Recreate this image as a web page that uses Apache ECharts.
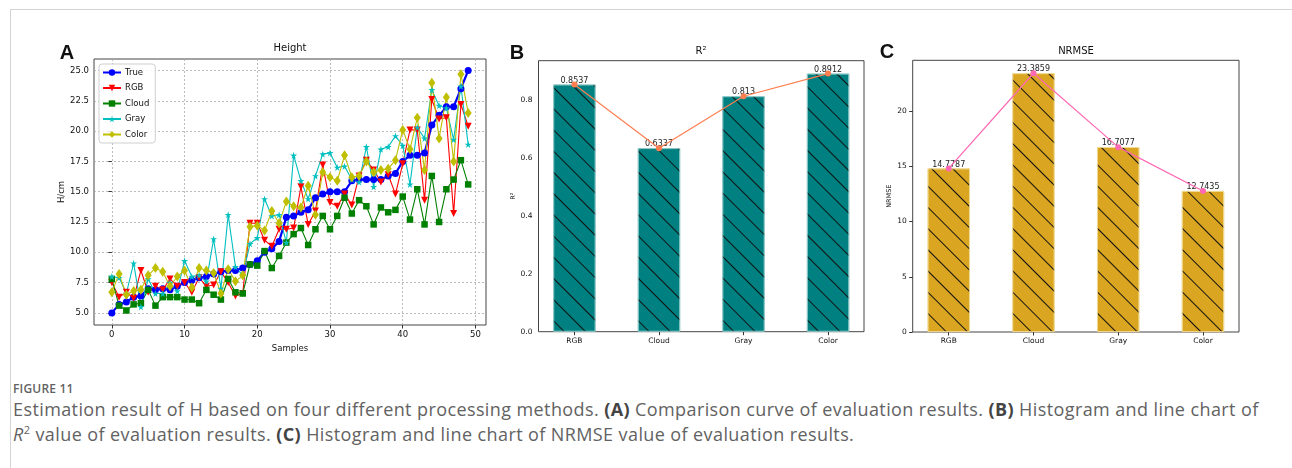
<!DOCTYPE html>
<html>
<head>
<meta charset="utf-8">
<title>Figure 11</title>
<script src="https://cdn.jsdelivr.net/npm/echarts@6/dist/echarts.min.js"></script>
<style>
  html, body { margin: 0; padding: 0; background: #fff; }
  #wrap { position: relative; width: 1292px; height: 468px; overflow: hidden; }
  #frame { position: absolute; left: 10px; top: 9px; width: 1290px; height: 470px;
           border-top: 1px solid #d4d4d4; border-left: 1px solid #d4d4d4; }
  #main { position: absolute; left: 0; top: 0; width: 1292px; height: 370px; }
  .cap { position: absolute; left: 13px; color: #626262; font-family: "Open Sans", sans-serif; white-space: nowrap; }
  #figno { top: 380px; font-size: 12px; font-weight: 600; letter-spacing: 0.2px; }
  #captxt { top: 397px; font-size: 18px; line-height: 25px; letter-spacing: 0.4px; }
  #captxt b { color: #444; }
</style>
</head>
<body>
<div id="wrap">
  <div id="frame"></div>
  <div id="main"></div>
  <div class="cap" id="figno">FIGURE 11</div>
  <div class="cap" id="captxt">Estimation result of H based on four different processing methods. <b>(A)</b> Comparison curve of evaluation results. <b>(B)</b> Histogram and line chart of<br><i>R</i><sup style="font-size:11px;line-height:0">2</sup> value of evaluation results. <b>(C)</b> Histogram and line chart of NRMSE value of evaluation results.</div>
</div>
<script type="text/javascript">
// panel A: height per sample (H/cm)
var trueH  = [5.0,5.7,5.9,6.3,6.4,7.0,6.9,7.0,6.9,7.2, 7.5,7.7,7.9,8.0,8.2,8.4,8.5,8.5,8.7,9.0,
              9.3,10.0,10.3,10.9,12.9,13.0,13.3,13.5,14.5,14.8, 15.0,15.0,15.0,15.9,16.0,16.0,16.0,16.0,16.3,16.5,
              17.5,18.0,18.0,18.2,20.5,21.3,22.0,22.0,23.5,25.0];
var rgbH   = [7.5,6.3,6.7,6.2,8.5,6.7,7.2,6.9,7.8,7.2, 7.5,6.7,7.9,7.2,7.3,8.4,7.5,6.4,6.6,12.4,
              12.4,11.0,10.5,11.9,11.9,12.0,15.4,12.3,13.4,17.2, 14.1,13.8,14.8,13.9,16.3,17.6,16.8,15.8,16.4,14.8,
              17.3,20.1,20.1,14.3,22.6,21.0,21.1,13.2,22.2,20.4];
var cloudH = [7.8,5.6,5.2,5.7,5.8,6.9,5.6,6.3,6.3,6.3, 6.1,6.1,5.8,6.9,6.5,6.1,7.8,6.7,6.6,9.0,
              8.9,10.1,8.7,9.7,10.8,11.5,12.0,10.6,11.9,13.0, 11.9,13.0,14.5,13.2,14.3,13.8,12.3,13.7,13.3,13.5,
              14.6,12.7,15.2,12.3,16.3,12.5,15.2,16.0,17.6,15.6];
var grayH  = [8.0,7.9,6.6,9.1,5.5,7.8,6.6,6.6,7.5,6.8, 9.3,8.0,8.1,7.6,11.1,7.0,13.1,8.8,8.1,10.7,
              11.2,14.4,13.0,13.1,10.8,18.0,15.9,14.4,16.3,18.1, 18.2,17.0,17.1,16.0,15.8,18.7,15.4,18.5,18.7,19.6,
              18.8,15.6,20.3,19.4,23.4,22.1,21.9,19.3,23.7,18.9];
var colorH = [6.7,8.2,6.5,6.8,6.9,8.1,8.7,8.4,7.2,8.0, 8.5,7.1,8.7,8.5,8.3,6.6,8.6,7.6,8.1,12.1,
              12.2,11.8,13.4,12.4,14.2,13.8,13.7,15.5,13.1,16.6, 16.2,15.9,18.0,16.2,16.3,17.5,16.6,16.8,16.9,17.6,
              20.1,18.5,21.1,16.8,24.0,19.4,22.8,17.5,24.7,21.5];
var xTicksA = [0, 10, 20, 30, 40, 50];
var yTicksA = [5.0, 7.5, 10.0, 12.5, 15.0, 17.5, 20.0, 22.5, 25.0];

// panels B and C
var methods = ['RGB', 'Cloud', 'Gray', 'Color'];
var r2      = [0.8537, 0.6337, 0.813, 0.8912];
var nrmse   = [14.7787, 23.3859, 16.7077, 12.7435];
var yTicksC = [0, 5, 10, 15, 20];

var FONT = 'DejaVu Sans';
var STAR = 'path://M50,0 L61,35 L98,35 L68,57 L79,91 L50,70 L21,91 L32,57 L2,35 L39,35 Z';

function pairs(arr) {
    return arr.map(function (v, i) { return [i, v]; });
}

var hatch = {
    symbol: 'rect', symbolSize: 1, color: '#111',
    dashArrayX: [1, 0], dashArrayY: [1, 14], rotation: Math.PI / 4
};

function lineA(name, data, color, symbol, size, width, rotate) {
    return {
        name: name, type: 'line', xAxisIndex: 0, yAxisIndex: 0,
        data: pairs(data), symbol: symbol, symbolSize: size, symbolRotate: rotate || 0,
        showAllSymbol: true,
        lineStyle: { color: color, width: width },
        itemStyle: { color: color }
    };
}

var tickStyle = { show: true, length: 3.5, lineStyle: { color: '#333' } };
var gridLine = { color: '#aaaaaa', type: [2, 2], width: 0.8 };

function axisX(gi, min, max, ticks, fmt, name, fs, gap) {
    return {
        type: 'value', gridIndex: gi, min: min, max: max,
        name: name, nameLocation: 'middle', nameGap: gap,
        nameTextStyle: { fontFamily: FONT, fontSize: 8.5, color: '#111' },
        axisLine: { show: false },
        axisTick: Object.assign({ customValues: ticks }, tickStyle),
        axisLabel: { customValues: ticks, formatter: fmt, fontFamily: FONT, fontSize: fs, color: '#111', margin: 5 },
        splitLine: { show: gi === 0, lineStyle: gridLine }
    };
}

// y axis for panel A (ticks not aligned with min, so listed)
function axisYA() {
    return {
        type: 'value', gridIndex: 0, min: 4.0, max: 25.95,
        name: 'H/cm', nameLocation: 'middle', nameGap: 28,
        nameTextStyle: { fontFamily: FONT, fontSize: 8.5, color: '#111' },
        axisLine: { show: false },
        axisTick: Object.assign({ customValues: yTicksA }, tickStyle),
        axisLabel: { customValues: yTicksA, formatter: function (v) { return v.toFixed(1); },
                     fontFamily: FONT, fontSize: 8.5, color: '#111', margin: 5 },
        splitLine: { show: true, lineStyle: gridLine }
    };
}

// y axes for bar panels: min 0 so interval works
function axisYBar(gi, max, step, fmt, name, gap, ticks) {
    return {
        type: 'value', gridIndex: gi, min: 0, max: max, interval: step,
        name: name, nameLocation: 'middle', nameGap: gap,
        nameTextStyle: { fontFamily: FONT, fontSize: 6.5, color: '#111' },
        axisLine: { show: false },
        axisTick: ticks ? tickStyle : { show: false },
        axisLabel: { formatter: fmt, showMaxLabel: false, fontFamily: FONT, fontSize: 7.5, color: '#111', margin: 6 },
        splitLine: { show: false }
    };
}

function barSeries(gi, vals, color, edge) {
    return {
        type: 'bar', xAxisIndex: gi, yAxisIndex: gi, data: pairs(vals), barWidth: 42.3,
        itemStyle: { color: color, borderColor: edge, borderWidth: 0.8, decal: hatch },
        label: {
            show: true, position: 'top', distance: 0, fontFamily: FONT, fontSize: 8, color: '#222',
            formatter: function (p) { return String(p.value[1]); }
        },
        z: 2
    };
}

function dotLine(gi, vals, color) {
    return {
        type: 'line', xAxisIndex: gi, yAxisIndex: gi, data: pairs(vals),
        symbol: 'circle', symbolSize: 6,
        label: { show: false },
        lineStyle: { color: color, width: 1.2 }, itemStyle: { color: color }, z: 3
    };
}

function catName(v) { return methods[v]; }

function txt(x, y, s, size, weight, family) {
    return {
        type: 'text', x: x, y: y, silent: true,
        style: { text: s, fontSize: size, fontWeight: weight || 'normal', fontFamily: family || FONT,
                 fill: '#111', align: 'center', verticalAlign: 'middle' }
    };
}

var gridC = { left: 912.7, top: 60.3, width: 326.3, height: 271.7 };

var myChart = echarts.init(document.getElementById('main'));
var option = {
    animation: false,
    textStyle: { fontFamily: FONT },
    grid: [
        { left: 94, top: 59, width: 392, height: 266, show: true, borderColor: '#444', borderWidth: 1 },
        { left: 538.5, top: 60.7, width: 325.5, height: 271, show: true, borderColor: '#444', borderWidth: 1 },
        Object.assign({ show: true, borderColor: '#444', borderWidth: 1 }, gridC)
    ],
    legend: {
        left: 99, top: 64, orient: 'vertical', itemGap: 6.5, itemWidth: 18, itemHeight: 8,
        padding: [4, 6, 4, 3], borderColor: '#cfcfcf', borderWidth: 1, borderRadius: 3,
        backgroundColor: 'rgba(255,255,255,0.85)',
        textStyle: { fontFamily: FONT, fontSize: 8.5, color: '#111', padding: [0, 0, 0, -1] },
        data: ['True', 'RGB', 'Cloud', 'Gray', 'Color']
    },
    xAxis: [
        axisX(0, -2.45, 51.45, xTicksA, function (v) { return String(v); }, 'Samples', 8.5, 15),
        axisX(1, -0.425, 3.425, [0, 1, 2, 3], catName, '', 7.5, 14),
        axisX(2, -0.425, 3.425, [0, 1, 2, 3], catName, '', 7.5, 14)
    ],
    yAxis: [
        axisYA(),
        axisYBar(1, 0.9358, 0.2, function (v) { return v.toFixed(1); }, 'R²', 22, true),
        axisYBar(2, 24.555, 5, function (v) { return String(v); }, 'NRMSE', 17, false)
    ],
    series: [
        lineA('True',  trueH,  '#0000ff', 'circle',   7,      2.2),
        lineA('RGB',   rgbH,   '#ff0000', 'triangle', 7,      1.1, 180),
        lineA('Cloud', cloudH, '#008000', 'rect',     6.5,    1.1),
        lineA('Gray',  grayH,  '#00bfbf', STAR,       7,      1.1),
        lineA('Color', colorH, '#bfbf00', 'diamond',  [7, 10], 1.1),
        barSeries(1, r2, '#008080', '#8cc7c7'),
        dotLine(1, r2, '#ff7f50'),
        barSeries(2, nrmse, '#daa520', '#f0d890'),
        dotLine(2, nrmse, '#ff69b4')
    ],
    graphic: [
        txt(67, 53, 'A', 20, 'bold', 'Liberation Sans'),
        txt(517, 53, 'B', 20, 'bold', 'Liberation Sans'),
        txt(887, 52, 'C', 20, 'bold', 'Liberation Sans'),
        txt(290, 48, 'Height', 10),
        txt(701, 51, 'R²', 10),
        txt(1076, 51, 'NRMSE', 10)
    ]
};
myChart.setOption(option);

// tick marks for panel C's y axis, placed through the axis scale
var ticksC = yTicksC.map(function (v) {
    var y = Math.round(myChart.convertToPixel({ yAxisIndex: 2 }, v)) + 0.5;
    return {
        type: 'line', silent: true,
        shape: { x1: gridC.left - 3.5, y1: y, x2: gridC.left, y2: y },
        style: { stroke: '#333', lineWidth: 1 }
    };
});
myChart.setOption({ graphic: option.graphic.concat(ticksC) });
</script>
</body>
</html>
